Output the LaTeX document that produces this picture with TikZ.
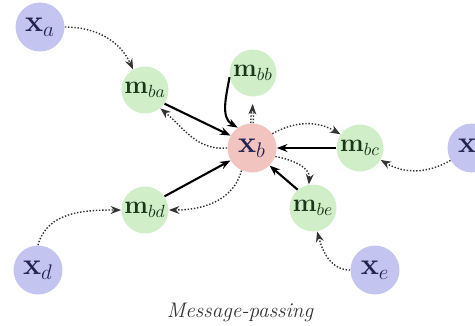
\documentclass[tikz,border=0pt]{standalone}
\usepackage{amsmath}
\usetikzlibrary{arrows.meta}
\definecolor{xblue}{RGB}{196,196,240}
\definecolor{mgreen}{RGB}{208,238,200}
\definecolor{xred}{RGB}{242,196,192}
\definecolor{xtext}{RGB}{35,35,80}
\definecolor{mtext}{RGB}{25,55,25}
\begin{document}
\begin{tikzpicture}[>={Stealth[length=6pt]}, x=0.02cm, y=-0.02cm,
		xnode/.style={circle, fill=xblue, minimum size=0.98cm, inner sep=0pt, text=xtext, font=\LARGE},
		mnode/.style={circle, fill=mgreen, minimum size=0.94cm, inner sep=0pt, text=mtext, font=\Large},
		cnode/.style={circle, fill=xred, minimum size=0.98cm, inner sep=0pt, text=xtext, font=\LARGE},
		msg/.style={->, densely dotted, thick, black!80},
		upd/.style={->, very thick}]
			\useasboundingbox (0,0) rectangle (475,325);
			% nodes
			\node[xnode] (xa) at (40,27) {$\mathbf{x}_a$};
			\node[xnode] (xc) at (472,148) {$\mathbf{x}_c$};
			\node[xnode] (xd) at (38,270) {$\mathbf{x}_d$};
			\node[xnode] (xe) at (375,270) {$\mathbf{x}_e$};
			\node[cnode] (xb) at (252,148) {$\mathbf{x}_b$};
			\node[mnode] (mba) at (145,90) {$\mathbf{m}_{ba}$};
			\node[mnode] (mbb) at (253,73) {$\mathbf{m}_{bb}$};
			\node[mnode] (mbc) at (360,148) {$\mathbf{m}_{bc}$};
			\node[mnode] (mbd) at (145,210) {$\mathbf{m}_{bd}$};
			\node[mnode] (mbe) at (313,208) {$\mathbf{m}_{be}$};
			% messages in
			\draw[msg] (xa.east) to[out=0, in=115] (mba.120);
			\draw[msg] (xc.210) to[bend left=30] (mbc.-30);
			\draw[msg] (xd.north) to[out=75, in=180] (mbd.west);
			\draw[msg] (xe.west) to[out=180, in=-75] (mbe.-80);
			% messages out of x_b
			\draw[msg] (xb.west) to[out=185, in=-40] (mba.-50);
			\draw[msg] (xb.35) to[bend left=30] (mbc.145);
			\draw[msg] (xb.-20) to[out=-10, in=85] (mbe.100);
			\draw[msg] (xb.-115) to[out=-105, in=0] (mbd.east);
			\draw[->, densely dotted, double, thick, black!80, shorten >=4pt] (xb.north) -- (mbb.south);
			% updates
			\draw[upd] (mba.-35) -- (xb.150);
			\draw[upd] (mbb.190) to[out=-100, in=150] (xb.125);
			\draw[upd] (mbc.west) -- (xb.east);
			\draw[upd] (mbe.130) -- (xb.-45);
			\draw[upd] (mbd.35) -- (xb.-150);
			\node[font=\large\itshape, text=black!80] (cap) at (240,312) {Message-passing};
		\end{tikzpicture}
\end{document}
